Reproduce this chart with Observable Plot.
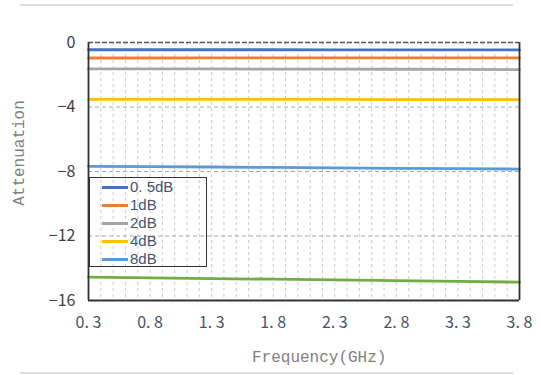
<!DOCTYPE html>
<html>
<head>
<meta charset="utf-8">
<script src="https://cdn.jsdelivr.net/npm/d3@7"></script>
<script src="https://cdn.jsdelivr.net/npm/@observablehq/plot@0.6"></script>
<style>
  html, body { margin: 0; padding: 0; background: #fff; }
  #wrap { position: relative; width: 541px; height: 375px; overflow: hidden; }
  #chart { position: absolute; left: 0; top: 0; }
  .deco { position: absolute; left: 20px; width: 493px; height: 2px; background: #dcdcdc; }
  .title { position: absolute; font-family: "Liberation Mono", "DejaVu Sans Mono", monospace; font-size: 16px; line-height: 18px; color: #7f7f7f; white-space: nowrap; }
  #legend { position: absolute; left: 89px; top: 177px; width: 116px; height: 88px; border: 1.5px solid #333; }
  .row { position: absolute; left: 0; height: 18px; line-height: 16px; display: flex; align-items: center; font-family: "Liberation Sans", Arial, sans-serif; font-size: 15px; color: #44546a; }
  .row span { line-height: 16px; }
  .sw { width: 26px; height: 3px; margin-left: 12px; margin-right: 2px; }
</style>
</head>
<body>
<div id="wrap">
  <div class="deco" style="top:4px"></div>
  <div class="deco" style="top:372px"></div>
  <div id="chart"></div>
  <div class="title" style="left:252px; top:349px;">Frequency(GHz)</div>
  <div class="title" style="left:20px; top:153px; transform: translate(-50%,-50%) rotate(-90deg);">Attenuation</div>
  <div id="legend"></div>
</div>
<script>
// ---- data ----
const freq = [0.3, 0.8, 1.3, 1.8, 2.3, 2.8, 3.3, 3.8];
const s05 = [-0.45, -0.45, -0.45, -0.45, -0.46, -0.46, -0.46, -0.46];
const s1  = [-0.96, -0.96, -0.95, -0.95, -0.95, -0.95, -0.95, -0.95];
const s2  = [-1.64, -1.64, -1.64, -1.65, -1.65, -1.66, -1.67, -1.68];
const s4  = [-3.53, -3.53, -3.53, -3.53, -3.53, -3.54, -3.54, -3.54];
const s8  = [-7.68, -7.70, -7.72, -7.75, -7.77, -7.80, -7.82, -7.85];
const s16 = [-14.55, -14.60, -14.64, -14.68, -14.72, -14.77, -14.82, -14.86];
const seriesNames = ["0. 5dB", "1dB", "2dB", "4dB", "8dB", "16dB"];
const seriesValues = [s05, s1, s2, s4, s8, s16];
const seriesColors = ["#4472C4", "#ED7D31", "#A5A5A5", "#FFC000", "#5B9BD5", "#70AD47"];
const legendNames = ["0. 5dB", "1dB", "2dB", "4dB", "8dB"];
const xTicks = [0.3, 0.8, 1.3, 1.8, 2.3, 2.8, 3.3, 3.8];
const xTickLabels = ["0. 3", "0. 8", "1. 3", "1. 8", "2. 3", "2. 8", "3. 3", "3. 8"];
const yTicks = [0, -4, -8, -12, -16];
const yTickLabels = ["0", "\u22124", "\u22128", "\u221212", "\u221216"];

const rows = [];
seriesNames.forEach((name, i) => {
  freq.forEach((f, j) => rows.push({series: name, f, v: seriesValues[i][j]}));
});
const minorX = d3.range(3, 39).map(k => k / 10);

const chart = Plot.plot({
  width: 541,
  height: 375,
  marginLeft: 88,
  marginRight: 22,
  marginTop: 42,
  marginBottom: 75,
  style: {fontFamily: "'Noto Sans CJK SC', 'Noto Sans', sans-serif", fontSize: "14px", background: "transparent"},
  x: {domain: [0.3, 3.8]},
  y: {domain: [-16, 0]},
  color: {domain: seriesNames, range: seriesColors},
  marks: [
    Plot.ruleX(minorX, {stroke: "#cccccc", strokeWidth: 1, strokeDasharray: "3,3"}),
    Plot.ruleY([-4, -8, -12], {stroke: "#a8a8a8", strokeWidth: 1, strokeDasharray: "4,3"}),
    Plot.line(rows, {x: "f", y: "v", z: "series", stroke: "series", strokeWidth: 2.8}),
    Plot.ruleY([0], {stroke: "#555", strokeWidth: 1.5, strokeDasharray: "5,2"}),
    Plot.ruleY([-16], {stroke: "#333", strokeWidth: 1.8}),
    Plot.ruleX([0.3, 3.8], {stroke: "#333", strokeWidth: 1.8}),
    Plot.axisX(xTicks, {tickSize: 0, tickPadding: 16, fill: "#44546a", fontSize: 16,
      tickFormat: (d) => xTickLabels[xTicks.indexOf(d)], label: null}),
    Plot.axisY(yTicks, {tickSize: 0, tickPadding: 13, fill: "#404040", fontSize: 16,
      tickFormat: (d) => yTickLabels[yTicks.indexOf(d)], label: null})
  ]
});
document.getElementById("chart").appendChild(chart);

const legend = document.getElementById("legend");
legendNames.forEach((name, i) => {
  const r = document.createElement("div");
  r.className = "row";
  r.style.top = (i * 18) + "px";
  r.innerHTML = `<span class="sw" style="background:${seriesColors[i]}"></span><span>${name}</span>`;
  legend.appendChild(r);
});
</script>
</body>
</html>
